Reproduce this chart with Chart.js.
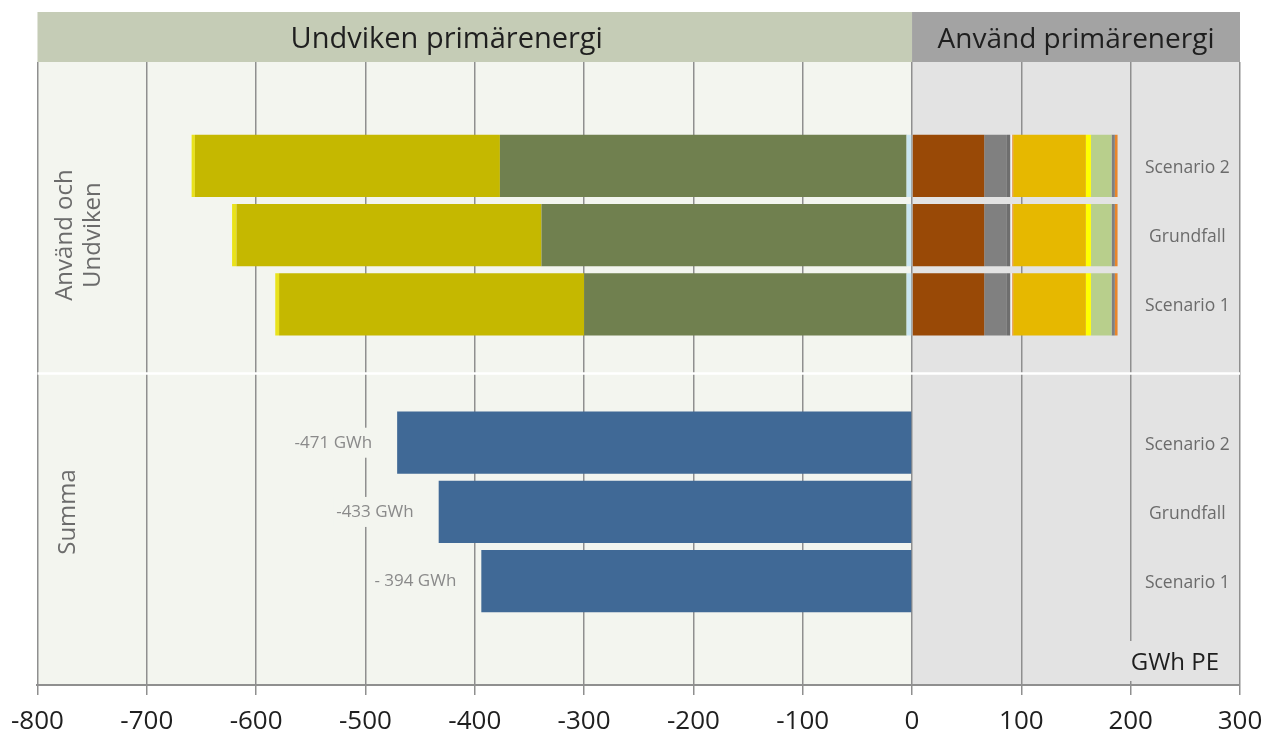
<!DOCTYPE html>
<html>
<head>
<meta charset="utf-8">
<script src="https://cdn.jsdelivr.net/npm/chart.js@4/dist/chart.umd.min.js"></script>
<style>
  html, body { margin: 0; padding: 0; background: #fff; }
  #wrap { width: 1278px; height: 737px; position: relative; }
</style>
</head>
<body>
<div id="wrap"><canvas id="chart"></canvas></div>
<script>
const FONT = '"Open Sans", "Noto Sans", sans-serif';

// 9 category rows: blank, upper group, blank divider, lower group, blank
const categories = ['', 'Scenario 2', 'Grundfall', 'Scenario 1', '', 'Scenario 2', 'Grundfall', 'Scenario 1', ''];
const groupTitles = [['Använd och', 'Undviken'], ['Summa']];
const groupRows = [2, 6];
const xTicks = [-800, 300, 100];

// Undviken primärenergi (negative side)
const undvikenBla  = [null, -5,   -5,   -5,   null, null, null, null, null];
const undvikenGron = [null, -372, -334, -295, null, null, null, null, null];
const undvikenOliv = [null, -279, -279, -279, null, null, null, null, null];
const undvikenGul  = [null, -3,   -4,   -3.5, null, null, null, null, null];

// Använd primärenergi (positive side)
const anvandBrun     = [null, 66,   66,   66,   null, null, null, null, null];
const anvandGra      = [null, 20.8, 20.8, 20.8, null, null, null, null, null];
const anvandMorkgra  = [null, 3,    3,    3,    null, null, null, null, null];
const anvandVit      = [null, 1.8,  1.8,  1.8,  null, null, null, null, null];
const anvandOrange1  = [null, 0.9,  0.9,  0.9,  null, null, null, null, null];
const anvandGuld     = [null, 66.5, 66.5, 66.5, null, null, null, null, null];
const anvandGul      = [null, 4.6,  4.6,  4.6,  null, null, null, null, null];
const anvandLjusgron = [null, 18.9, 18.9, 18.9, null, null, null, null, null];
const anvandGra2     = [null, 3,    3,    3,    null, null, null, null, null];
const anvandOrange2  = [null, 2.5,  2.5,  2.5,  null, null, null, null, null];

// Summa
const summa       = [null, null, null, null, null, -471, -433, -394, null];
const summaLabels = ['', '', '', '', '', '-471 GWh', '-433 GWh', '- 394 GWh', ''];

function ds(label, data, color) {
  return { label, data, backgroundColor: color, borderWidth: 0, categoryPercentage: 1, barPercentage: 0.9 };
}

const datasets = [
  ds('undvikenBla',  undvikenBla,  '#c9e5f0'),
  ds('undvikenGron', undvikenGron, '#70804f'),
  ds('undvikenOliv', undvikenOliv, '#c5b800'),
  ds('undvikenGul',  undvikenGul,  '#e9e21c'),
  ds('anvandBrun',     anvandBrun,     '#994906'),
  ds('anvandGra',      anvandGra,      '#808080'),
  ds('anvandMorkgra',  anvandMorkgra,  '#6e6e6e'),
  ds('anvandVit',      anvandVit,      '#f2f2f2'),
  ds('anvandOrange1',  anvandOrange1,  '#e8862a'),
  ds('anvandGuld',     anvandGuld,     '#e6b800'),
  ds('anvandGul',      anvandGul,      '#ffff00'),
  ds('anvandLjusgron', anvandLjusgron, '#b8cf8c'),
  ds('anvandGra2',     anvandGra2,     '#7f7f7f'),
  ds('anvandOrange2',  anvandOrange2,  '#e8862a'),
  ds('summa', summa, '#406996'),
];
const SUMMA_IDX = datasets.length - 1;

const decor = {
  id: 'decor',
  beforeDraw(chart) {
    const { ctx, chartArea: a, scales: { x } } = chart;
    const x0 = x.getPixelForValue(0);
    ctx.save();
    ctx.fillStyle = '#f3f5ef';
    ctx.fillRect(a.left, a.top, x0 - a.left, a.bottom - a.top);
    ctx.fillStyle = '#e3e3e3';
    ctx.fillRect(x0, a.top, a.right - x0, a.bottom - a.top);

    // header bands
    ctx.fillStyle = '#c5ccb6';
    ctx.fillRect(a.left, 12, x0 - a.left, a.top - 12);
    ctx.fillStyle = '#a3a3a3';
    ctx.fillRect(x0, 12, a.right - x0, a.top - 12);
    ctx.fillStyle = '#1f1f1f';
    ctx.font = '29px ' + FONT;
    ctx.textAlign = 'center';
    ctx.textBaseline = 'middle';
    ctx.fillText('Undviken primärenergi', (a.left + x0) / 2 - 28, 40);
    ctx.font = '28px ' + FONT;
    ctx.fillText('Använd primärenergi', (x0 + a.right) / 2, 40);
    ctx.restore();
  },
  beforeDatasetsDraw(chart) {
    const { ctx, chartArea: a, scales: { y } } = chart;
    const yd = y.getPixelForValue(4);
    ctx.save();
    ctx.strokeStyle = '#ffffff';
    ctx.lineWidth = 2.5;
    ctx.beginPath();
    ctx.moveTo(a.left, yd);
    ctx.lineTo(a.right, yd);
    ctx.stroke();
    ctx.restore();
  },
  afterDatasetsDraw(chart) {
    const { ctx, chartArea: a, scales: { x, y } } = chart;
    ctx.save();

    // row labels on the right
    ctx.font = '17.5px ' + FONT;
    ctx.fillStyle = '#6b6b6b';
    ctx.textAlign = 'center';
    ctx.textBaseline = 'middle';
    const xr = (x.getPixelForValue(200) + a.right) / 2 + 2;
    categories.forEach((c, i) => {
      if (c) ctx.fillText(c, xr, y.getPixelForValue(i) + 2);
    });

    // group titles, rotated
    ctx.font = '24px ' + FONT;
    groupTitles.forEach((lines, g) => {
      const yc = y.getPixelForValue(groupRows[g]);
      ctx.save();
      ctx.translate(lines.length > 1 ? 79 : 68, yc);
      ctx.rotate(-Math.PI / 2);
      lines.forEach((t, k) => {
        ctx.fillText(t, 0, (k - (lines.length - 1) / 2) * 28);
      });
      ctx.restore();
    });

    // summa value labels
    const meta = chart.getDatasetMeta(SUMMA_IDX);
    ctx.font = '17px ' + FONT;
    ctx.textAlign = 'right';
    summaLabels.forEach((t, i) => {
      if (!t) return;
      const bar = meta.data[i];
      const tx = bar.x - 25;
      const w = ctx.measureText(t).width;
      ctx.fillStyle = '#f3f5ef';
      ctx.fillRect(tx - w - 3, bar.y - 15, w + 6, 30);
      ctx.fillStyle = '#8a8a8a';
      ctx.fillText(t, tx, bar.y);
    });

    // unit label
    ctx.font = '24px ' + FONT;
    ctx.textAlign = 'left';
    const xu = x.getPixelForValue(200);
    ctx.fillStyle = '#e3e3e3';
    ctx.fillRect(xu - 2, a.bottom - 44, 100, 40);
    ctx.fillStyle = '#1f1f1f';
    ctx.fillText('GWh PE', xu, a.bottom - 22);
    ctx.restore();
  }
};

new Chart(document.getElementById('chart'), {
  type: 'bar',
  data: { labels: categories, datasets },
  options: {
    indexAxis: 'y',
    responsive: true,
    maintainAspectRatio: false,
    animation: false,
    layout: { padding: { top: 62, left: 37, right: 38, bottom: 0 } },
    plugins: { legend: { display: false }, tooltip: { enabled: false } },
    scales: {
      x: {
        stacked: true,
        min: xTicks[0],
        max: xTicks[1],
        afterFit: scale => { scale.height = 52; },
        ticks: { stepSize: xTicks[2], color: '#1f1f1f', font: { size: 26, family: FONT }, padding: 11, maxRotation: 0 },
        grid: { color: '#8f8f8f', lineWidth: 1.5, tickLength: 10 },
        border: { color: '#8f8f8f', width: 2 },
      },
      y: { stacked: true, display: false },
    },
  },
  plugins: [decor],
});
</script>
</body>
</html>
